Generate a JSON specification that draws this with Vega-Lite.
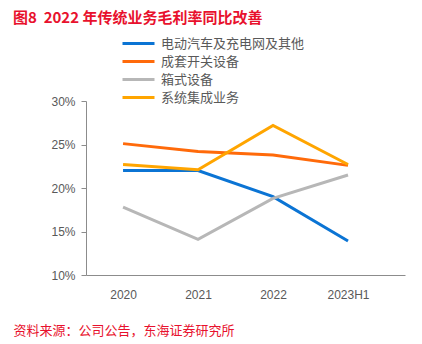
{
  "$schema": "https://vega.github.io/schema/vega-lite/v6.json",
  "autosize": "none",
  "width": 319,
  "height": 174,
  "padding": {"left": 86, "top": 101, "right": 17, "bottom": 69},
  "background": "white",
  "config": {
    "font": "Noto Sans CJK SC",
    "view": {"stroke": null}
  },
  "title": {
    "text": "图8\u00a0 2022 年传统业务毛利率同比改善",
    "anchor": "start",
    "frame": "group",
    "dx": -73,
    "offset": 8,
    "fontSize": 15,
    "fontWeight": "bold",
    "color": "#E8112D",
    "font": "Noto Sans CJK SC"
  },
  "data": {
    "values": [
      {"year": "2020", "series": "电动汽车及充电网及其他", "v": 0.220},
      {"year": "2021", "series": "电动汽车及充电网及其他", "v": 0.220},
      {"year": "2022", "series": "电动汽车及充电网及其他", "v": 0.190},
      {"year": "2023H1", "series": "电动汽车及充电网及其他", "v": 0.139},
      {"year": "2020", "series": "成套开关设备", "v": 0.251},
      {"year": "2021", "series": "成套开关设备", "v": 0.242},
      {"year": "2022", "series": "成套开关设备", "v": 0.238},
      {"year": "2023H1", "series": "成套开关设备", "v": 0.226},
      {"year": "2020", "series": "箱式设备", "v": 0.178},
      {"year": "2021", "series": "箱式设备", "v": 0.141},
      {"year": "2022", "series": "箱式设备", "v": 0.188},
      {"year": "2023H1", "series": "箱式设备", "v": 0.215},
      {"year": "2020", "series": "系统集成业务", "v": 0.227},
      {"year": "2021", "series": "系统集成业务", "v": 0.221},
      {"year": "2022", "series": "系统集成业务", "v": 0.272},
      {"year": "2023H1", "series": "系统集成业务", "v": 0.227}
    ]
  },
  "mark": {"type": "line", "strokeWidth": 3},
  "encoding": {
    "x": {
      "field": "year",
      "type": "ordinal",
      "scale": {"type": "point", "padding": 0.627, "align": 0.394},
      "axis": {
        "labelAngle": 0,
        "labelColor": "#595959",
        "labelFontSize": 12,
        "labelFont": "Liberation Sans",
        "labelPadding": 14,
        "ticks": false,
        "domainColor": "#8C8C8C",
        "domainWidth": 1,
        "grid": false,
        "title": "资料来源：公司公告，东海证券研究所",
        "titleColor": "#E8112D",
        "titleFontSize": 13,
        "titleFontWeight": "normal",
        "titleAnchor": "start",
        "titleAlign": "left",
        "titleX": -73,
        "titleY": 49,
        "titleBaseline": "top"
      }
    },
    "y": {
      "field": "v",
      "type": "quantitative",
      "scale": {"domain": [0.1, 0.3], "nice": false, "zero": false},
      "axis": {
        "values": [0.1, 0.15, 0.2, 0.25, 0.3],
        "format": ".0%",
        "labelColor": "#595959",
        "labelFontSize": 12,
        "labelFont": "Liberation Sans",
        "labelPadding": 6,
        "tickColor": "#8C8C8C",
        "tickSize": 5,
        "domainColor": "#8C8C8C",
        "grid": false,
        "title": null
      }
    },
    "color": {
      "field": "series",
      "type": "nominal",
      "scale": {
        "domain": ["电动汽车及充电网及其他", "成套开关设备", "箱式设备", "系统集成业务"],
        "range": ["#0B74D4", "#FF6A0A", "#B7B7B7", "#FFA500"]
      },
      "legend": {
        "title": null,
        "orient": "none",
        "legendX": 43,
        "legendY": -67,
        "symbolType": "M-2,0H2",
        "symbolSize": 256,
        "symbolStrokeWidth": 3,
        "labelFontSize": 13,
        "labelColor": "#595959",
        "labelOffset": 13,
        "rowPadding": 1
      }
    }
  }
}
